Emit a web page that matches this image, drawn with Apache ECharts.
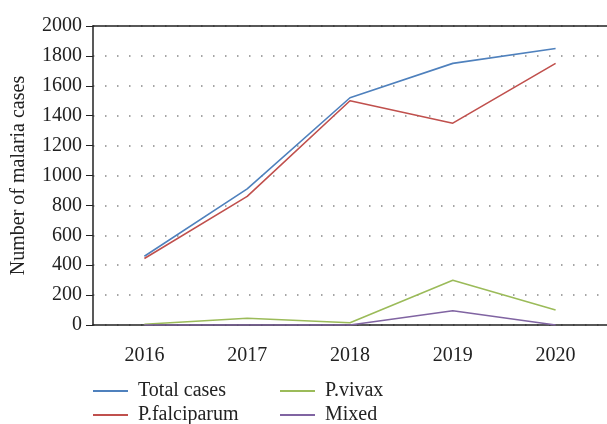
<!DOCTYPE html>
<html>
<head>
<meta charset="utf-8">
<script src="https://cdn.jsdelivr.net/npm/echarts@6/dist/echarts.min.js"></script>
<style>
  html, body { margin: 0; padding: 0; background: #fff; }
  #main { width: 607px; height: 424px; }
</style>
</head>
<body>
<div id="main"></div>
<script>
var years = ['2016', '2017', '2018', '2019', '2020'];
var totalCases = [460, 910, 1520, 1750, 1850];
var falciparum = [445, 860, 1500, 1350, 1750];
var vivax = [5, 45, 15, 300, 100];
var mixed = [0, 0, 0, 95, 0];

var font = 'Liberation Serif';
var chart = echarts.init(document.getElementById('main'));

function line(name, data, color) {
  return {
    name: name,
    type: 'line',
    data: data,
    symbol: 'none',
    color: color,
    lineStyle: { width: 1.6, color: color }
  };
}

// one legend per entry so each sits where the reference puts it
function legendAt(name, left, top) {
  return {
    data: [name],
    left: left, top: top,
    icon: 'rect', itemWidth: 35, itemHeight: 2, itemGap: 0,
    textStyle: { fontFamily: font, fontSize: 20, color: '#222', padding: [0, 0, 0, 5] }
  };
}

chart.setOption({
  animation: false,
  textStyle: { fontFamily: font },
  grid: { left: 93, right: 0, top: 26, bottom: 99 },
  legend: [
    legendAt('Total cases', 88, 376),
    legendAt('P.falciparum', 88, 400),
    legendAt('P.vivax', 275, 376),
    legendAt('Mixed', 275, 400)
  ],
  xAxis: [
    {
      type: 'category',
      data: years,
      boundaryGap: true,
      axisLine: { lineStyle: { color: '#222', width: 1.5 } },
      axisTick: { alignWithLabel: true, length: 6, lineStyle: { color: '#222' } },
      axisLabel: { fontFamily: font, fontSize: 20, color: '#222', margin: 21 }
    },
    {
      type: 'category',
      data: years,
      position: 'top',
      axisLine: { show: true, lineStyle: { color: '#222', width: 1.5 } },
      axisTick: { show: false },
      axisLabel: { show: false }
    }
  ],
  yAxis: {
    type: 'value',
    min: 0, max: 2000, interval: 200,
    name: 'Number of malaria cases',
    nameLocation: 'middle',
    nameGap: 64,
    nameTextStyle: { fontFamily: font, fontSize: 20, color: '#222' },
    axisLine: { show: true, lineStyle: { color: '#222', width: 1.5 } },
    axisTick: { show: true, length: 7, lineStyle: { color: '#222' } },
    axisLabel: { fontFamily: font, fontSize: 20, color: '#222', margin: 11, formatter: function (v) { return String(v); } },
    splitLine: { show: true, lineStyle: { color: '#888', type: [1.5, 10.5], width: 1.5 } }
  },
  series: [
    line('Total cases', totalCases, '#4f81bd'),
    line('P.falciparum', falciparum, '#c0504d'),
    line('P.vivax', vivax, '#9bbb59'),
    line('Mixed', mixed, '#8064a2')
  ]
});
</script>
</body>
</html>
